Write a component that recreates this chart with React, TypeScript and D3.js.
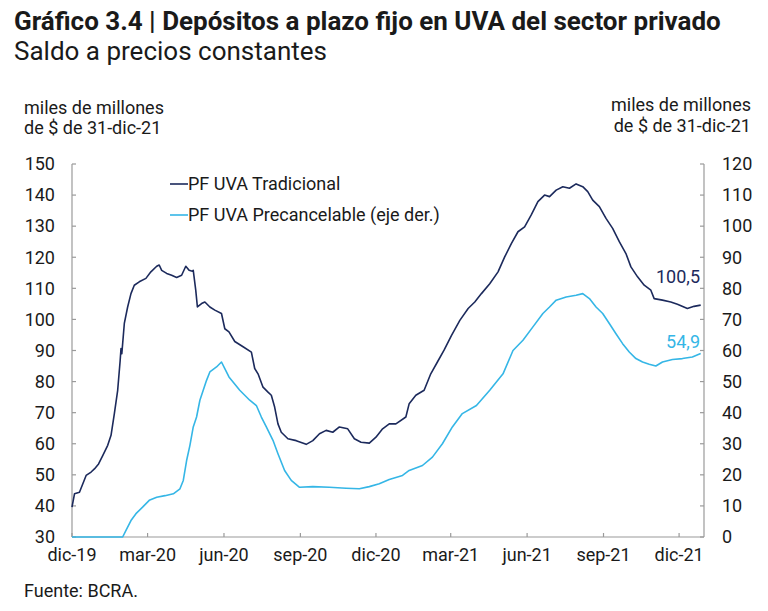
import React from "react";
import * as d3 from "d3";

const title = "Gráfico 3.4 | Depósitos a plazo fijo en UVA del sector privado";
const subtitle = "Saldo a precios constantes";
const unitLine1 = "miles de millones";
const unitLine2 = "de $ de 31-dic-21";
const source = "Fuente: BCRA.";
const seriesNames = ["PF UVA Tradicional", "PF UVA Precancelable (eje der.)"];
const endLabels = ["100,5", "54,9"];

const leftTicks = [30, 40, 50, 60, 70, 80, 90, 100, 110, 120, 130, 140, 150];
const rightTicks = [0, 10, 20, 30, 40, 50, 60, 70, 80, 90, 100, 110, 120];
const xTickDates = ["2019-12-01", "2020-03-01", "2020-06-01", "2020-09-01", "2020-12-01", "2021-03-01", "2021-06-01", "2021-09-01", "2021-12-01"];
const xTickLabels = ["dic-19", "mar-20", "jun-20", "sep-20", "dic-20", "mar-21", "jun-21", "sep-21", "dic-21"];

const tradDates = [
  "2019-12-01", "2019-12-04", "2019-12-10", "2019-12-18", "2019-12-24", "2019-12-28", "2020-01-02", "2020-01-07",
  "2020-01-13", "2020-01-17", "2020-01-21", "2020-01-25", "2020-01-28", "2020-01-29", "2020-01-30", "2020-02-02",
  "2020-02-06", "2020-02-10", "2020-02-14", "2020-02-20", "2020-02-28", "2020-03-05", "2020-03-12", "2020-03-15",
  "2020-03-18", "2020-03-24", "2020-03-30", "2020-04-05", "2020-04-11", "2020-04-16", "2020-04-20", "2020-04-24",
  "2020-04-25", "2020-04-28", "2020-04-30", "2020-05-05", "2020-05-09", "2020-05-15", "2020-05-21", "2020-05-29",
  "2020-06-02", "2020-06-07", "2020-06-14", "2020-06-24", "2020-07-04", "2020-07-08", "2020-07-12", "2020-07-18",
  "2020-07-24", "2020-07-28", "2020-08-01", "2020-08-05", "2020-08-09", "2020-08-17", "2020-08-27", "2020-09-08",
  "2020-09-16", "2020-09-24", "2020-10-02", "2020-10-10", "2020-10-18", "2020-10-28", "2020-11-05", "2020-11-13",
  "2020-11-23", "2020-12-01", "2020-12-09", "2020-12-17", "2020-12-25", "2021-01-06", "2021-01-10", "2021-01-18",
  "2021-01-28", "2021-02-05", "2021-02-13", "2021-02-21", "2021-03-02", "2021-03-12", "2021-03-22", "2021-03-30",
  "2021-04-07", "2021-04-17", "2021-04-27", "2021-05-05", "2021-05-13", "2021-05-21", "2021-05-29", "2021-06-06",
  "2021-06-14", "2021-06-22", "2021-06-28", "2021-07-06", "2021-07-14", "2021-07-22", "2021-07-30", "2021-08-07",
  "2021-08-13", "2021-08-19", "2021-08-27", "2021-09-04", "2021-09-12", "2021-09-20", "2021-09-28", "2021-10-04",
  "2021-10-12", "2021-10-20", "2021-10-28", "2021-11-01", "2021-11-11", "2021-11-21", "2021-11-29", "2021-12-11",
  "2021-12-19", "2021-12-27"
];
const tradValues = [
  39.6, 43.9, 44.4, 49.8, 50.9, 51.9, 53.5, 56.2,
  59.5, 62.7, 69.7, 77.2, 86.8, 90.6, 89.0, 98.7,
  104.0, 108.3, 111.0, 112.1, 113.2, 115.3, 117.1, 117.5,
  115.8, 114.8, 114.2, 113.5, 114.2, 117.1, 115.8, 115.5,
  115.8, 109.4, 104.0, 105.1, 105.6, 104.0, 103.0, 101.9,
  97.0, 96.0, 92.9, 91.2, 89.5, 84.2, 82.5, 78.2,
  76.6, 75.6, 71.8, 66.4, 63.7, 61.6, 61.0, 59.8,
  61.0, 63.2, 64.3, 63.7, 65.4, 64.8, 61.6, 60.5,
  60.2, 62.1, 64.8, 66.4, 66.4, 68.6, 72.9, 75.6,
  77.2, 82.5, 86.3, 90.1, 94.9, 99.7, 103.5, 105.6,
  108.3, 111.5, 115.3, 120.1, 124.4, 128.2, 129.8, 133.6,
  137.9, 140.0, 139.5, 141.6, 142.7, 142.2, 143.6, 142.7,
  141.1, 138.4, 136.3, 132.5, 129.3, 125.0, 121.2, 116.9,
  113.7, 111.0, 109.4, 106.7, 106.2, 105.6, 104.9, 103.5,
  104.2, 104.6
];

const preDates = [
  "2019-12-01", "2020-01-31", "2020-02-04", "2020-02-10", "2020-02-16", "2020-02-24", "2020-03-03", "2020-03-12",
  "2020-03-22", "2020-04-01", "2020-04-09", "2020-04-13", "2020-04-17", "2020-04-21", "2020-04-25", "2020-04-29",
  "2020-05-03", "2020-05-07", "2020-05-11", "2020-05-15", "2020-05-23", "2020-05-29", "2020-06-02", "2020-06-07",
  "2020-06-20", "2020-07-02", "2020-07-10", "2020-07-16", "2020-07-22", "2020-07-30", "2020-08-05", "2020-08-13",
  "2020-08-21", "2020-08-31", "2020-09-16", "2020-10-06", "2020-10-26", "2020-11-11", "2020-11-23", "2020-12-05",
  "2020-12-17", "2021-01-02", "2021-01-10", "2021-01-26", "2021-02-07", "2021-02-19", "2021-03-03", "2021-03-15",
  "2021-04-01", "2021-04-17", "2021-05-03", "2021-05-15", "2021-05-27", "2021-06-08", "2021-06-20", "2021-06-28",
  "2021-07-06", "2021-07-18", "2021-07-30", "2021-08-07", "2021-08-15", "2021-08-23", "2021-08-31", "2021-09-08",
  "2021-09-16", "2021-09-24", "2021-10-02", "2021-10-10", "2021-10-18", "2021-10-26", "2021-11-03", "2021-11-11",
  "2021-11-23", "2021-12-05", "2021-12-17", "2021-12-27"
];
const preValues = [
  0, 0, 2.1, 5.3, 7.5, 9.6, 11.8, 12.8,
  13.3, 13.9, 15.5, 18.2, 24.6, 29.5, 35.4, 38.6,
  44.0, 47.2, 50.4, 53.1, 54.7, 56.3, 54.2, 51.5,
  47.2, 44.0, 42.3, 38.6, 35.4, 31.1, 26.8, 21.4,
  18.2, 16.0, 16.2, 16.0, 15.7, 15.5, 16.2, 17.1,
  18.5, 19.8, 21.4, 23.0, 25.7, 30.0, 35.4, 39.7,
  42.3, 47.2, 52.5, 60.0, 63.3, 67.6, 71.9, 74.0,
  76.2, 77.2, 77.8, 78.3, 76.7, 74.0, 71.9, 68.7,
  65.4, 62.2, 59.5, 57.4, 56.3, 55.6, 55.0, 56.3,
  57.1, 57.4, 57.9, 59.0
];

const COL_TRAD = "#1c2a5c";
const COL_PRE = "#35b6e6";
const AXIS = "#9a9a9a";
const TEXT = "#1a1a1a";
const FONT = "Roboto, 'Noto Sans', sans-serif";

export default function App() {
  const parse = d3.utcParse("%Y-%m-%d");
  const x = d3.scaleUtc().domain([parse("2019-12-01")!, parse("2021-12-31")!]).range([72, 704]);
  const yL = d3.scaleLinear().domain([30, 150]).range([537, 164]);
  const yR = d3.scaleLinear().domain([0, 120]).range([537, 164]);

  const trad = tradDates.map((d, i) => ({ d: parse(d)!, v: tradValues[i] }));
  const pre = preDates.map((d, i) => ({ d: parse(d)!, v: preValues[i] }));

  const lineL = d3.line<{ d: Date; v: number }>().x((p) => x(p.d)).y((p) => yL(p.v));
  const lineR = d3.line<{ d: Date; v: number }>().x((p) => x(p.d)).y((p) => yR(p.v));

  const x0 = x.range()[0];
  const x1 = x.range()[1];
  const yb = yL.range()[0];
  const yt = yL.range()[1];
  const fs = 18;

  return (
    <div style={{ position: "absolute", left: 0, top: 0 }}>
      <svg width={768} height={611} style={{ display: "block", background: "#fff" }} fontFamily={FONT}>
        <rect width={768} height={611} fill="#fff" />
        <text x={14} y={30} fontSize={26} fontWeight={700} fill={TEXT}>{title}</text>
        <text x={14} y={60} fontSize={26} fill={TEXT}>{subtitle}</text>

        <text x={24} y={114} fontSize={fs} fill={TEXT}>{unitLine1}</text>
        <text x={24} y={134} fontSize={fs} fill={TEXT}>{unitLine2}</text>
        <text x={751} y={111} fontSize={fs} fill={TEXT} textAnchor="end">{unitLine1}</text>
        <text x={751} y={132} fontSize={fs} fill={TEXT} textAnchor="end">{unitLine2}</text>

        {/* axes */}
        <line x1={x0} x2={x0} y1={yt} y2={yb} stroke={AXIS} strokeWidth={1.2} />
        <line x1={x1} x2={x1} y1={yt} y2={yb} stroke={AXIS} strokeWidth={1.2} />
        <line x1={x0} x2={x1} y1={yb} y2={yb} stroke={AXIS} strokeWidth={1.2} />

        {leftTicks.map((t) => (
          <g key={"l" + t}>
            <line x1={x0} x2={x0 + 4} y1={yL(t)} y2={yL(t)} stroke={AXIS} strokeWidth={1.2} />
            <text x={55} y={yL(t)} dy="0.35em" fontSize={fs} textAnchor="end" fill={TEXT}>{t}</text>
          </g>
        ))}
        {rightTicks.map((t) => (
          <g key={"r" + t}>
            <line x1={x1 - 4} x2={x1} y1={yR(t)} y2={yR(t)} stroke={AXIS} strokeWidth={1.2} />
            <text x={722} y={yR(t)} dy="0.35em" fontSize={fs} textAnchor="start" fill={TEXT}>{t}</text>
          </g>
        ))}
        {xTickDates.map((d, i) => {
          const xx = x(parse(d)!);
          return (
            <g key={"x" + d}>
              <line x1={xx} x2={xx} y1={yb} y2={yb - 4} stroke={AXIS} strokeWidth={1.2} />
              <text x={xx} y={561} fontSize={fs} textAnchor="middle" fill={TEXT}>{xTickLabels[i]}</text>
            </g>
          );
        })}

        {/* series */}
        <path d={lineR(pre) || ""} fill="none" stroke={COL_PRE} strokeWidth={1.6} strokeLinejoin="round" />
        <path d={lineL(trad) || ""} fill="none" stroke={COL_TRAD} strokeWidth={1.6} strokeLinejoin="round" />

        {/* legend */}
        <line x1={170} x2={188} y1={184} y2={184} stroke={COL_TRAD} strokeWidth={1.6} />
        <text x={188} y={190} fontSize={fs} fill={TEXT}>{seriesNames[0]}</text>
        <line x1={170} x2={188} y1={215} y2={215} stroke={COL_PRE} strokeWidth={1.6} />
        <text x={188} y={221} fontSize={fs} fill={TEXT}>{seriesNames[1]}</text>

        {/* end labels */}
        <text x={700} y={283} fontSize={fs} textAnchor="end" fill={COL_TRAD}>{endLabels[0]}</text>
        <text x={700} y={348} fontSize={fs} textAnchor="end" fill={COL_PRE}>{endLabels[1]}</text>

        <text x={24} y={597} fontSize={fs} fill={TEXT}>{source}</text>
      </svg>
    </div>
  );
}
